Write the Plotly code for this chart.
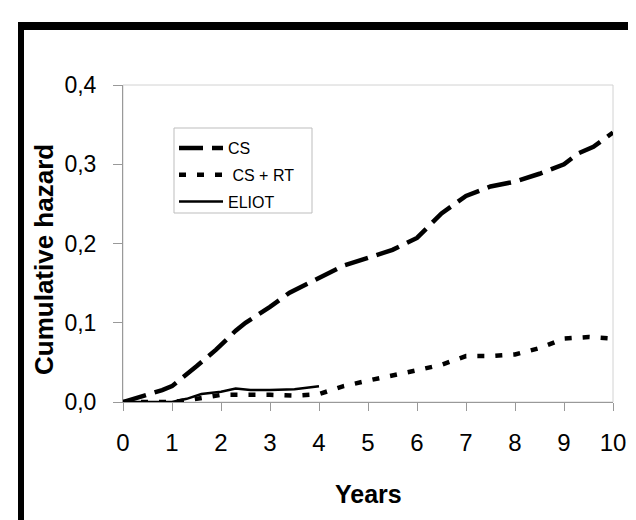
import plotly.graph_objects as go

# ---- data ----
years_cs = [0, 0.4, 0.8, 1.0, 1.3, 1.5, 1.9, 2.0, 2.3, 2.5, 3.0, 3.4, 4.0, 4.5, 5.0,
            5.5, 6.0, 6.3, 6.5, 7.0, 7.5, 8.0, 8.5, 9.0, 9.3, 9.6, 10.0]
hazard_cs = [0, 0.007, 0.015, 0.02, 0.034, 0.045, 0.066, 0.072, 0.09, 0.10, 0.12, 0.138,
             0.156, 0.172, 0.182, 0.192, 0.207, 0.226, 0.238, 0.26, 0.272, 0.278, 0.288,
             0.30, 0.314, 0.322, 0.34]

years_csrt = [0, 1.0, 1.4, 2.0, 3.0, 3.5, 4.0, 4.5, 5.0, 5.5, 6.0, 6.5, 7.0, 7.5, 8.0,
              8.5, 9.0, 9.5, 10.0]
hazard_csrt = [0, 0, 0.003, 0.009, 0.009, 0.008, 0.01, 0.02, 0.027, 0.033, 0.04, 0.047,
               0.058, 0.058, 0.06, 0.068, 0.08, 0.082, 0.08]

years_eliot = [0, 1.0, 1.3, 1.6, 2.0, 2.3, 2.6, 3.0, 3.5, 3.8, 4.0]
hazard_eliot = [0, 0, 0.004, 0.01, 0.013, 0.017, 0.015, 0.015, 0.016, 0.018, 0.02]

x_ticks = [0, 1, 2, 3, 4, 5, 6, 7, 8, 9, 10]
y_ticks = [0, 0.1, 0.2, 0.3, 0.4]
y_tick_labels = ["0,0", "0,1", "0,2", "0,3", "0,4"]

FONT = "Liberation Sans, Arial, sans-serif"

fig = go.Figure()
fig.add_trace(go.Scatter(x=years_cs, y=hazard_cs, mode="lines", name="CS",
                         legendgroup="g1",
                         line=dict(color="black", width=4.5, dash="24px,9px")))
fig.add_trace(go.Scatter(x=years_csrt, y=hazard_csrt, mode="lines", name=" CS + RT",
                         legendgroup="g2",
                         line=dict(color="black", width=4.5, dash="7px,11px")))
fig.add_trace(go.Scatter(x=years_eliot, y=hazard_eliot, mode="lines", name="ELIOT",
                         legendgroup="g3",
                         line=dict(color="black", width=2.5)))

W, H = 636, 520
L, R, T, B = 115, 31, 77, 126
pw, ph = W - L - R, H - T - B

def px_x(p):
    return (p - L) / pw

def px_y(p):
    return (H - B - p) / ph

shapes = [
    # light plot-area border
    dict(type="rect", xref="paper", yref="paper", x0=0, x1=1, y0=0, y1=1,
         line=dict(color="#d2d2d2", width=1), layer="below"),
    # legend frame
    dict(type="rect", xref="paper", yref="paper", x0=px_x(166), x1=px_x(304),
         y0=px_y(205), y1=px_y(120), line=dict(color="#bdbdbd", width=1),
         layer="below"),
    # black frame: top bar and left bar
    dict(type="rect", xref="paper", yref="paper", x0=px_x(10), x1=px_x(640),
         y0=px_y(22), y1=px_y(14), fillcolor="black", line=dict(width=0)),
    dict(type="rect", xref="paper", yref="paper", x0=px_x(10), x1=px_x(16),
         y0=px_y(525), y1=px_y(14), fillcolor="black", line=dict(width=0)),
]

annotations = [
    dict(text="<b>Years</b>", xref="paper", yref="paper", x=0.5, y=px_y(486),
         xanchor="center", yanchor="middle", showarrow=False,
         font=dict(family=FONT, size=25, color="black")),
    dict(text="<b>Cumulative hazard</b>", xref="paper", yref="paper", x=px_x(36),
         y=px_y(252), xanchor="center", yanchor="middle", showarrow=False,
         textangle=-90, font=dict(family=FONT, size=26, color="black")),
]

fig.update_layout(
    width=W, height=H,
    margin=dict(l=L, r=R, t=T, b=B),
    paper_bgcolor="white", plot_bgcolor="white",
    font=dict(family=FONT, color="black"),
    showlegend=True,
    legend=dict(x=px_x(166), y=px_y(123), xanchor="left", yanchor="top",
                borderwidth=0, bgcolor="rgba(0,0,0,0)",
                font=dict(family=FONT, size=16, color="black"),
                tracegroupgap=3, itemwidth=44),
    shapes=shapes,
    annotations=annotations,
    xaxis=dict(range=[0, 10], tickmode="array", tickvals=x_ticks,
               ticks="outside", ticklen=8, tickcolor="#999999", showline=True,
               linecolor="#999999", linewidth=1, showgrid=False, zeroline=False,
               tickfont=dict(family=FONT, size=24, color="black"),
               ticklabelstandoff=11),
    yaxis=dict(range=[0, 0.4], tickmode="array", tickvals=y_ticks,
               ticktext=y_tick_labels, ticks="outside", ticklen=9,
               tickcolor="#999999", showline=True, linecolor="#999999",
               linewidth=1, showgrid=False, zeroline=False,
               tickfont=dict(family=FONT, size=23, color="black"),
               ticklabelstandoff=12),
)

fig.write_html("out.html")
